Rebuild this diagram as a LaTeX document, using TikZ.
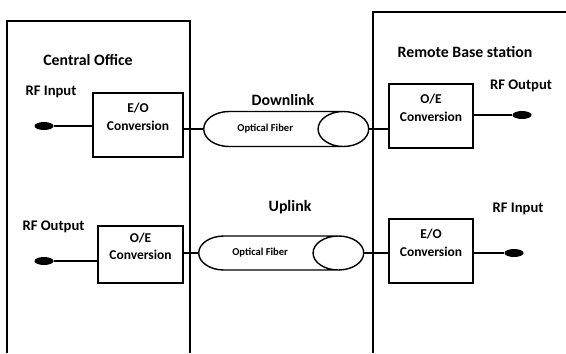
\documentclass[tikz,border=0pt]{standalone}
\usepackage{fontspec}
\setmainfont{Carlito}
\usetikzlibrary{positioning,shapes.geometric}
\tikzset{
  conv/.style={shape=rectangle,draw,line width=1.2pt,align=center,
    font=\fontsize{11.5}{15}\selectfont\bfseries,text depth=0.5cm},
  fiber/.style={shape=cylinder,draw,line width=1.2pt,shape aspect=3,
    minimum height=4.95cm,minimum width=1.05cm,anchor=west,
    font=\fontsize{9}{11}\selectfont\bfseries},
  port/.style={shape=ellipse,fill=black,inner sep=0pt,
    minimum width=0.57cm,minimum height=0.24cm},
  title/.style={font=\fontsize{13.5}{16}\selectfont\bfseries},
  rflabel/.style={font=\fontsize{12.5}{15}\selectfont\bfseries},
  frame/.style={line width=1.2pt},
  link/.style={line width=1pt}
}

\begin{document}
\begin{tikzpicture}[x=0.03cm,y=-0.03cm]
    \useasboundingbox (0,0) rectangle (566,353);
    % the two sites
    \draw [frame] (7,353) -- (7,21) -- (190,21) -- (190,353);
    \draw [frame] (373,353) -- (373,12) -- (566,12);
    \node (co) [title] at (88,60) {Central Office};
    \node (rbs) [title] at (465,52) {Remote Base station};
    \node (down) [title] at (283,100) {Downlink};
    \node (up) [title] at (290,207) {Uplink};

    % downlink chain
    \node (in1) [rflabel] at (51,92) {RF Input};
    \node (din1) [port] at (44,126) {};
    \node (eo1) [conv,minimum width=2.7cm,minimum height=1.92cm] at (138,125) {E/O\\Conversion};
    \node (fib1) [fiber] at (203,129) {Optical Fiber};
    \node (oe1) [conv,minimum width=2.52cm,minimum height=1.92cm] at (431,116) {O/E\\Conversion};
    \node (out1) [rflabel] at (521,86) {RF Output};
    \node (dout1) [port] at (522,115) {};
    \draw [link] (din1) -- (din1 -| eo1.west);
    \draw [link] (fib1.west) -- (fib1.west -| eo1.east);
    \draw [link] (fib1.east) -- (fib1.east -| oe1.west);
    \draw [link] (dout1) -- (dout1 -| oe1.east);

    % uplink chain
    \node (out2) [rflabel] at (53.5,227) {RF Output};
    \node (dout2) [port] at (44,261) {};
    \node (oe2) [conv,minimum width=2.55cm,minimum height=1.71cm] at (140.5,254.5) {O/E\\Conversion};
    \node (fib2) [fiber,minimum width=1.02cm] at (198,253) {Optical Fiber};
    \node (eo2) [conv,minimum width=2.52cm,minimum height=1.92cm] at (431,251) {E/O\\Conversion};
    \node (in2) [rflabel] at (518,209) {RF Input};
    \node (din2) [port] at (514,253) {};
    \draw [link] (dout2) -- (dout2 -| oe2.west);
    \draw [link] (fib2.west) -- (fib2.west -| oe2.east);
    \draw [link] (fib2.east) -- (fib2.east -| eo2.west);
    \draw [link] (din2) -- (din2 -| eo2.east);
  \end{tikzpicture}
\end{document}
